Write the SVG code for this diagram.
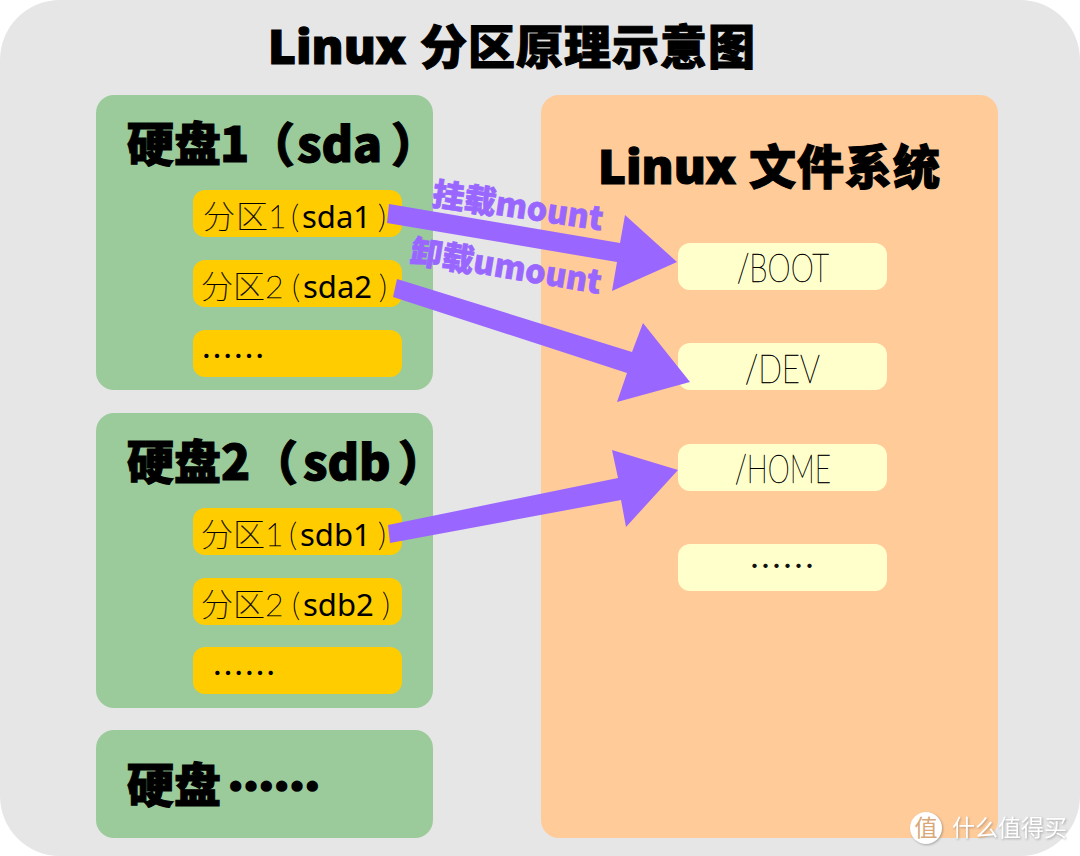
<svg xmlns="http://www.w3.org/2000/svg" width="1080" height="856" viewBox="0 0 1080 856">
<style>
text{font-family:"Noto Sans CJK SC","Noto Sans",sans-serif}
.h{font-weight:900;fill:#000;stroke:#000;stroke-width:1.1}
.h47{font-size:47px}.h49{font-size:48px}
.p{font-size:32px;fill:#000}
.c1{font-weight:100;stroke:#000;stroke-width:.2}
.t{font-weight:100;font-family:"Lato",sans-serif;fill:#000;stroke:#000;stroke-width:.55}
.s{font-family:"Noto Sans",sans-serif;font-weight:400;font-size:31px}
.f{font-family:"Lato","Noto Sans",sans-serif;font-weight:100;font-size:40px;fill:#000;stroke:#000;stroke-width:.55}
.m{font-weight:900;font-size:32px;fill:#9966ff;stroke:#9966ff;stroke-width:.7}
.g{fill:#9bcb9b}.y{fill:#ffcc00}.c{fill:#ffffcc}.a{fill:#9966ff}
.sh{filter:drop-shadow(1px 1px 1px rgba(90,90,90,.45))}
</style>
<rect width="1080" height="856" fill="#fff"/>
<rect id="bg" width="1080" height="856" rx="60" fill="#e6e6e6"/>
<text class="h" y="64"><tspan x="268" font-size="48" font-family="Noto Sans">Linux</tspan><tspan x="420" font-size="47" textLength="335">分区原理示意图</tspan></text>
<g id="disk1"><rect class="g" x="96" y="95" width="337" height="295" rx="18"/>
<text class="h" y="161"><tspan class="h47" x="127">硬盘</tspan><tspan class="h49" x="220" y="162">1</tspan><tspan class="h47" x="248">（</tspan><tspan class="h49" x="297" y="162">sda</tspan><tspan class="h47" x="391">）</tspan></text></g>
<g id="p1"><rect class="y" x="193" y="190" width="209" height="47" rx="12"/><text class="p" y="228"><tspan x="203 236" class="c1">分区</tspan><tspan x="268" class="t">1</tspan><tspan x="291" class="t">(</tspan><tspan x="302" class="s">sda1</tspan><tspan x="378" class="t">)</tspan></text></g>
<g id="p2"><rect class="y" x="193" y="260" width="209" height="47" rx="12"/><text class="p" y="298"><tspan x="201 233" class="c1">分区</tspan><tspan x="265" class="t">2</tspan><tspan x="292" class="t">(</tspan><tspan x="303" class="s">sda2</tspan><tspan x="379" class="t">)</tspan></text></g>
<g id="p3"><rect class="y" x="193" y="330" width="209" height="47" rx="12"/><text class="p" x="201" y="368">……</text></g>
<g id="disk2"><rect class="g" x="96" y="413" width="337" height="295" rx="18"/>
<text class="h" y="479"><tspan class="h47" x="127">硬盘</tspan><tspan class="h49" x="221" y="480">2</tspan><tspan class="h47" x="251">（</tspan><tspan class="h49" x="303" y="480">sdb</tspan><tspan class="h47" x="398">）</tspan></text></g>
<g id="p4"><rect class="y" x="193" y="508" width="209" height="47" rx="12"/><text class="p" y="546"><tspan x="201 233" class="c1">分区</tspan><tspan x="265" class="t">1</tspan><tspan x="289" class="t">(</tspan><tspan x="300" class="s">sdb1</tspan><tspan x="378" class="t">)</tspan></text></g>
<g id="p5"><rect class="y" x="193" y="578" width="209" height="47" rx="12"/><text class="p" y="616"><tspan x="201 233" class="c1">分区</tspan><tspan x="265" class="t">2</tspan><tspan x="292" class="t">(</tspan><tspan x="303" class="s">sdb2</tspan><tspan x="382" class="t">)</tspan></text></g>
<g id="p6"><rect class="y" x="193" y="647" width="209" height="47" rx="12"/><text class="p" x="212" y="685">……</text></g>
<g id="disk3"><rect class="g" x="96" y="730" width="337" height="108" rx="18"/>
<text class="h" y="802"><tspan class="h47" x="127">硬盘</tspan><tspan font-size="46" x="228" y="803" stroke-width="3">……</tspan></text></g>
<g id="fs"><rect x="541" y="95" width="457" height="743" rx="18" fill="#ffcb99"/>
<text class="h" y="184"><tspan x="598" font-size="48" font-family="Noto Sans">Linux</tspan><tspan x="749" font-size="47" textLength="191">文件系统</tspan></text></g>
<g id="boot"><rect class="c" x="678" y="243" width="209" height="47" rx="12"/><text class="f" x="737" y="282" textLength="92" lengthAdjust="spacingAndGlyphs">/BOOT</text></g>
<g id="dev"><rect class="c" x="678" y="343" width="209" height="47" rx="12"/><text class="f" x="745" y="383" textLength="75" lengthAdjust="spacingAndGlyphs">/DEV</text></g>
<g id="home"><rect class="c" x="678" y="444" width="209" height="47" rx="12"/><text class="f" x="735" y="483" textLength="96" lengthAdjust="spacingAndGlyphs">/HOME</text></g>
<g id="more"><rect class="c" x="678" y="544" width="209" height="47" rx="12"/><text x="749" y="578" font-size="33" fill="#111">……</text></g>
<g id="connectors">
<polygon class="a" points="389,204 620,243 625,215 677,262 612,291 617,262 387,223"/>
<polygon class="a" points="397,279 632,352 643,323 690,382 617,402 627,373 393,297"/>
<polygon class="a" points="388,525 618,478 612,450 678,470 626,527 621,500 390,543"/>
</g>
<text class="m" transform="translate(431 205) rotate(8.5)">挂载mount</text>
<text class="m" transform="translate(409 262) rotate(9.5)">卸载umount</text>
<g id="watermark"><circle cx="926" cy="828" r="16" fill="#fff" class="sh"/>
<text x="926" y="836" text-anchor="middle" font-size="23" fill="#d8a878">值</text>
<text x="952" y="836" font-size="23" fill="#fff" class="sh">什么值得买</text></g>
</svg>
